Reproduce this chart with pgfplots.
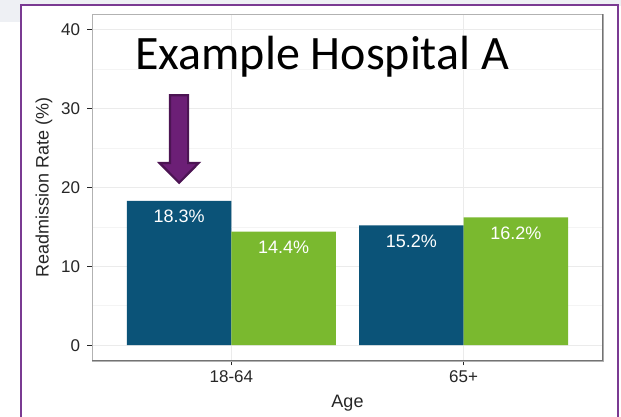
\documentclass[border=0pt]{standalone}
\usepackage{pgfplots}
\pgfplotsset{compat=1.18}
\usepackage{fontspec}
\setmainfont{Liberation Sans}
\newfontfamily\titlefont{Carlito}

\definecolor{barblue}{HTML}{0B5378}
\definecolor{bargreen}{HTML}{7AB92F}
\definecolor{framepurple}{HTML}{7A3A92}
\definecolor{arrowfill}{HTML}{6C1F76}
\definecolor{arrowedge}{HTML}{4C1453}
\definecolor{pagegray}{HTML}{EEF0F4}
\definecolor{gridmajor}{HTML}{EBEBEB}
\definecolor{gridminor}{HTML}{F4F4F4}
\definecolor{ticktext}{HTML}{262626}

% readmission rates (%) by age group
\pgfplotstableread{
x  rate
1  18.3
2  15.2
}\hospitalA
\pgfplotstableread{
x  rate
1  14.4
2  16.2
}\comparison

\begin{document}
\begin{tikzpicture}
\path[use as bounding box] (0pt,0pt) rectangle (621pt,417pt);
% slide background around the framed chart
\fill[pagegray] (0pt,411pt) rectangle (621pt,417pt);
\fill[pagegray] (0pt,395pt) rectangle (21pt,417pt);

\begin{axis}[
  at={(92pt,56pt)}, anchor=south west, scale only axis,
  width=511pt, height=347pt,
  xmin=0.4, xmax=2.6, ymin=-2, ymax=42,
  ybar, bar width=0.45,
  /pgf/number format/assume math mode=true,
  xtick={1,2}, xticklabels={18-64,65+},
  ytick={0,10,20,30,40}, minor ytick={5,15,25,35},
  grid=both,
  major grid style={color=gridmajor, line width=1pt},
  minor grid style={color=gridminor, line width=0.7pt},
  tick align=outside, tick pos=left,
  major tick length=4.5pt, minor tick length=0pt,
  tick style={color=ticktext, line width=1.1pt},
  axis line style={color=black!30, line width=0.8pt},
  ticklabel style={text=ticktext, font=\fontsize{17}{17}\selectfont},
  yticklabel style={xshift=-4pt},
  xticklabel style={yshift=-2pt},
  ylabel={Readmission Rate (\%)},
  ylabel style={at={(axis description cs:-0.0939,0.5)}, anchor=center,
                font=\fontsize{18}{18}\selectfont, text=black!85},
  xlabel={Age},
  xlabel style={at={(axis description cs:0.5,-0.1354)}, anchor=base,
                font=\fontsize{18}{18}\selectfont, text=black!85},
  nodes near coords={\pgfmathprintnumber[fixed,fixed zerofill,precision=1]{\pgfplotspointmeta}\%},
  every node near coord/.append style={anchor=center, yshift=-15.5pt,
                text=white, font=\fontsize{18}{18}\selectfont},
]
\addplot[bar shift=-0.225, draw=none, fill=barblue]
  table[x=x, y=rate] {\hospitalA};
\addplot[bar shift=0.225, draw=none, fill=bargreen]
  table[x=x, y=rate] {\comparison};

% darker lower and right panel edges
\draw[black!55, line width=1.6pt] (rel axis cs:0,0) -- (rel axis cs:1,0) -- (rel axis cs:1,1);

% callout arrow pointing at the 18-64 bar of Hospital A
\draw[arrowedge, fill=arrowfill, line width=2.2pt, line join=miter]
  (axis cs:0.7362,31.7) -- (axis cs:0.8138,31.7) -- (axis cs:0.8138,23.1)
  -- (axis cs:0.859,23.1) -- (axis cs:0.775,20.6) -- (axis cs:0.691,23.1)
  -- (axis cs:0.7362,23.1) -- cycle;
\end{axis}

\node[anchor=base west, inner sep=0, font=\titlefont\fontsize{48}{50}\selectfont]
  at (135pt,347pt) {Example Hospital A};

% slide frame
\draw[framepurple, line width=1.6pt] (21pt,-5pt) -- (21pt,412pt) -- (618pt,412pt) -- (618pt,-5pt);
\end{tikzpicture}
\end{document}
